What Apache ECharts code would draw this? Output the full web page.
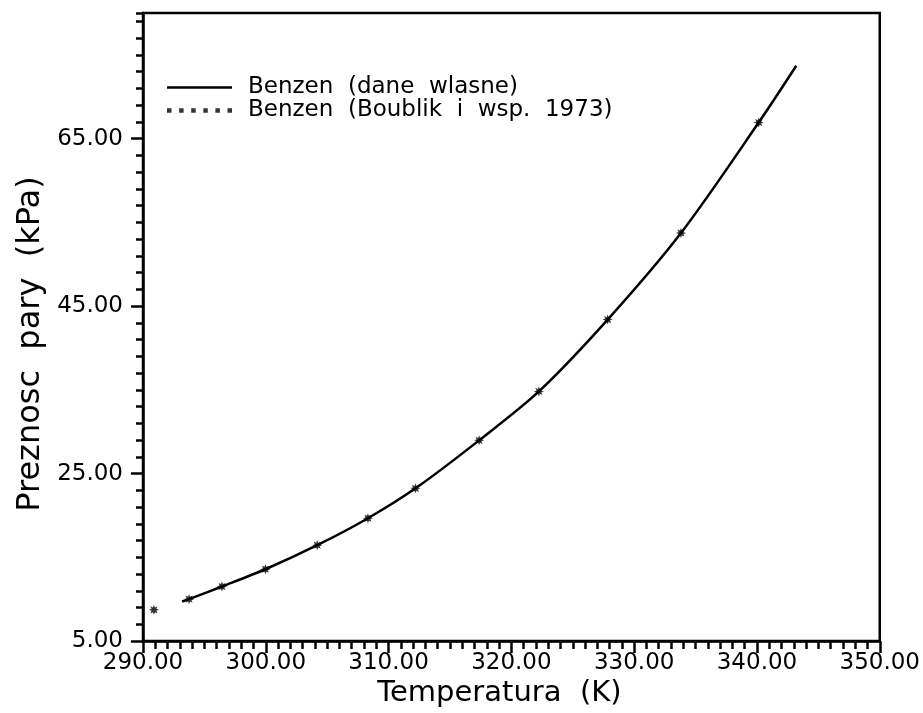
<!DOCTYPE html>
<html>
<head>
<meta charset="utf-8">
<script src="https://cdn.jsdelivr.net/npm/echarts@6/dist/echarts.min.js"></script>
<style>
  html, body { margin: 0; padding: 0; background: #fff; }
  #chart { width: 923px; height: 713px; }
</style>
</head>
<body>
<div id="chart"></div>
<script>
// Benzene vapour pressure vs temperature
const ownLabel = 'Benzen  (dane  wlasne)';
const litLabel = 'Benzen  (Boublik  i  wsp.  1973)';

// own measurements: smoothed curve (T in K, p in kPa)
const curveT = [293.18, 293.75, 296.43, 299.97, 304.19, 308.32, 312.19, 317.37, 322.24, 327.84, 333.81, 340.14, 343.20];
const curveP = [9.73, 10.01, 11.52, 13.58, 16.45, 19.67, 23.24, 28.97, 34.81, 43.39, 53.73, 66.92, 73.70];

// literature points (Boublik et al. 1973)
const litT = [290.89, 293.75, 296.43, 299.97, 304.19, 308.32, 312.19, 317.37, 322.24, 327.84, 333.81, 340.14];
const litP = [8.73, 10.01, 11.52, 13.58, 16.45, 19.67, 23.24, 28.97, 34.81, 43.39, 53.73, 66.92];

// axis settings
const xMin = 290, xMax = 350, xStep = 10;
const yMin = 5, yMax = 80, yStep = 20, yMinorStep = 2;

const FONT = 'DejaVu Sans';
const LW = 2.5;
const pair = (xs, ys) => xs.map((x, i) => [x, ys[i]]);

// eight-point asterisk used as the point marker
function starSymbol() {
  let d = 'path://';
  for (let k = 0; k < 16; k++) {
    const a = Math.PI * k / 8;
    const r = k % 2 === 0 ? 5 : 2.6;
    const x = (5 + r * Math.sin(a)).toFixed(2);
    const y = (5 - r * Math.cos(a)).toFixed(2);
    d += (k === 0 ? 'M' : 'L') + x + ',' + y;
  }
  return d + 'Z';
}
// legend icons: solid rule and a row of dots
const ruleIcon = 'path://M0,0H65V2.5H0Z';
let dotsIcon = 'path://';
for (let i = 0; i < 6; i++) {
  const x = (i * 12.1).toFixed(1);
  dotsIcon += 'M' + x + ',0h4.5v4.5h-4.5z';
}

const chart = echarts.init(document.getElementById('chart'), null, { renderer: 'canvas' });

chart.setOption({
  backgroundColor: '#fff',
  animation: false,
  textStyle: { fontFamily: FONT, color: '#000' },
  grid: {
    left: 143, right: 40, top: 13, bottom: 71,
    show: true, borderColor: '#000', borderWidth: LW, backgroundColor: 'transparent'
  },
  legend: [
    {
      data: [{ name: ownLabel, icon: ruleIcon }],
      left: 167, top: 76, padding: 0,
      itemWidth: 65, itemHeight: 2.5,
      selectedMode: false,
      textStyle: { fontFamily: FONT, fontSize: 23, color: '#000', padding: [0, 0, 0, 11] }
    },
    {
      data: [{ name: litLabel, icon: dotsIcon }],
      left: 167, top: 99, padding: 0,
      itemWidth: 65, itemHeight: 4.5,
      selectedMode: false,
      textStyle: { fontFamily: FONT, fontSize: 23, color: '#000', padding: [0, 0, 0, 11] }
    }
  ],
  xAxis: {
    type: 'value', min: xMin, max: xMax, interval: xStep,
    name: 'Temperatura  (K)', nameLocation: 'middle', nameGap: 37,
    nameTextStyle: { fontFamily: FONT, fontSize: 29, color: '#000', padding: [0, 24, 0, 0] },
    axisLine: { show: true, onZero: false, lineStyle: { color: '#000', width: LW } },
    axisTick: { show: true, inside: false, length: 12, lineStyle: { color: '#000', width: LW } },
    minorTick: { show: true, splitNumber: 10, length: 8, lineStyle: { color: '#000', width: LW } },
    splitLine: { show: false },
    axisLabel: {
      margin: 10, fontFamily: FONT, fontSize: 23, color: '#000',
      formatter: v => v.toFixed(2)
    }
  },
  yAxis: [
    {
      type: 'value', min: yMin, max: yMax, interval: yStep,
      name: 'Preznosc  pary  (kPa)', nameLocation: 'middle', nameGap: 95, nameRotate: 90,
      nameTextStyle: { fontFamily: FONT, fontSize: 32, color: '#000', padding: [0, 34, 0, 0] },
      axisLine: { show: true, onZero: false, lineStyle: { color: '#000', width: LW } },
      axisTick: { show: true, inside: false, length: 12, lineStyle: { color: '#000', width: LW } },
      splitLine: { show: false },
      axisLabel: {
        margin: 20, fontFamily: FONT, fontSize: 23, color: '#000',
        showMaxLabel: false,
        formatter: v => v.toFixed(2)
      }
    },
    {
      // minor ticks every 2 kPa
      type: 'value', min: yMin, max: yMax, interval: yMinorStep, position: 'left',
      axisLine: { show: false },
      axisTick: { show: true, inside: false, length: 7, lineStyle: { color: '#000', width: LW } },
      axisLabel: { show: false },
      splitLine: { show: false }
    }
  ],
  series: [
    {
      name: ownLabel, type: 'line', data: pair(curveT, curveP),
      smooth: 0.3, showSymbol: false, symbol: 'none',
      color: '#000', lineStyle: { color: '#000', width: LW }, z: 2
    },
    {
      name: litLabel, type: 'scatter', data: pair(litT, litP),
      symbol: starSymbol(), symbolSize: 10,
      color: '#000', itemStyle: { color: '#000' }, z: 3
    }
  ]
});
</script>
</body>
</html>
